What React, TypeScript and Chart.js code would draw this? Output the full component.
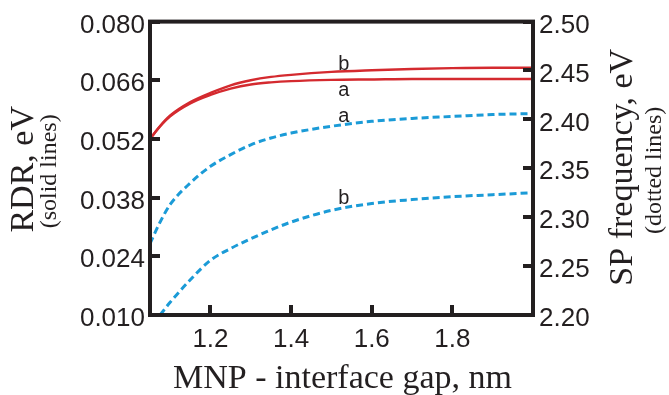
import React, { useEffect, useRef } from "react";
import { Chart, registerables } from "chart.js";

Chart.register(...registerables);

// ---- data ----
const gapValues = [1.05, 1.075, 1.1, 1.15, 1.2, 1.25, 1.3, 1.35, 1.4, 1.5, 1.6, 1.7, 1.8, 1.9, 2.0];
const rdrA = [0.052, 0.055, 0.0574, 0.0605, 0.0625, 0.064, 0.065, 0.0655, 0.0658, 0.0661, 0.0662, 0.0663, 0.0663, 0.0663, 0.0663];
const rdrB = [0.052, 0.0551, 0.0576, 0.0608, 0.063, 0.0648, 0.066, 0.0668, 0.0673, 0.068, 0.0684, 0.0687, 0.0689, 0.069, 0.069];
const spA = [2.273, 2.295, 2.313, 2.335, 2.352, 2.364, 2.374, 2.381, 2.386, 2.393, 2.398, 2.401, 2.403, 2.405, 2.406];
const spB = [null, 2.2, 2.213, 2.236, 2.256, 2.268, 2.278, 2.287, 2.295, 2.307, 2.314, 2.318, 2.321, 2.323, 2.325];

const xTicks = [1.2, 1.4, 1.6, 1.8];
const leftTicks = [0.01, 0.024, 0.038, 0.052, 0.066, 0.08];
const rightTicks = [2.2, 2.25, 2.3, 2.35, 2.4, 2.45, 2.5];

const curveLabels = ["b", "a", "a", "b"];
const curveLabelGap = [1.531, 1.531, 1.531, 1.531];
const curveLabelValue = [0.0698, 0.0636, 2.403, 2.319];
const curveLabelAxis = ["y", "y", "y1", "y1"];

const xTitle = "MNP - interface gap, nm";
const leftTitle = "RDR, eV";
const leftSubTitle = "(solid lines)";
const rightTitle = "SP frequency, eV";
const rightSubTitle = "(dotted lines)";

const INK = "#231f20";
const RED = "#d42a2f";
const BLUE = "#1b9bd7";

const toPoints = (vals: (number | null)[]) =>
  gapValues.map((g, i) => ({ x: g, y: vals[i] }));

const framePlugin = {
  id: "frame",
  afterDraw(chart: any) {
    const ctx = chart.ctx;
    const a = chart.chartArea;
    const sx = chart.scales["x"];
    const sy = chart.scales["y"];
    const sy1 = chart.scales["y1"];
    ctx.save();
    ctx.setLineDash([]);
    ctx.globalAlpha = 1;
    ctx.globalCompositeOperation = "source-over";
    ctx.fillStyle = INK;
    ctx.strokeStyle = INK;
    // inward tick marks
    const tl = 10;
    const tw = 4;
    for (let i = 0; i < xTicks.length; i++) {
      const px = sx.getPixelForValue(xTicks[i]);
      ctx.fillRect(Math.round(px - tw / 2), Math.round(a.bottom - tl), tw, tl);
    }
    for (let i = 0; i < leftTicks.length; i++) {
      const py = sy.getPixelForValue(leftTicks[i]);
      ctx.fillRect(Math.round(a.left), Math.round(py - tw / 2), tl, tw);
    }
    for (let i = 0; i < rightTicks.length; i++) {
      const py = sy1.getPixelForValue(rightTicks[i]);
      ctx.fillRect(Math.round(a.right - tl), Math.round(py - tw / 2), tl, tw);
    }
    // frame
    ctx.lineWidth = 4;
    ctx.lineJoin = "miter";
    ctx.strokeRect(a.left, a.top, a.right - a.left, a.bottom - a.top);
    // curve labels
    ctx.font = "20px 'Liberation Sans', Arial, sans-serif";
    ctx.textAlign = "center";
    ctx.textBaseline = "middle";
    curveLabels.forEach((t, i) => {
      const px = sx.getPixelForValue(curveLabelGap[i]);
      const py = chart.scales[curveLabelAxis[i]].getPixelForValue(curveLabelValue[i]);
      ctx.fillText(t, px, py);
    });

    // axis titles
    const cy = (a.top + a.bottom) / 2;
    ctx.textAlign = "center";
    ctx.textBaseline = "alphabetic";
    ctx.font = "34px 'Liberation Serif', 'Times New Roman', serif";
    ctx.fillText(xTitle, (a.left + a.right) / 2 + 1, 388);
    const vtext = (t: string, x: number, y: number, font: string) => {
      ctx.save();
      ctx.font = font;
      ctx.translate(x, y);
      ctx.rotate(-Math.PI / 2);
      ctx.fillText(t, 0, 0);
      ctx.restore();
    };
    const big = "34px 'Liberation Serif', 'Times New Roman', serif";
    const small = "24px 'Liberation Serif', 'Times New Roman', serif";
    vtext(leftTitle, 33, cy + 1, big);
    vtext(leftSubTitle, 56, cy + 3, small);
    vtext(rightTitle, 632, cy - 1, big);
    vtext(rightSubTitle, 661, cy + 2, small);
    ctx.restore();
  },
};

export default function App() {
  const ref = useRef<HTMLCanvasElement | null>(null);
  useEffect(() => {
    if (!ref.current) return;
    const tickFont = { family: "'Liberation Sans', Arial, sans-serif", size: 26 };
    const chart = new Chart(ref.current, {
      type: "line",
      data: {
        datasets: [
          { label: "RDR a", data: toPoints(rdrA), yAxisID: "y", borderColor: RED, borderWidth: 2.4, pointRadius: 0, cubicInterpolationMode: "monotone", fill: false },
          { label: "RDR b", data: toPoints(rdrB), yAxisID: "y", borderColor: RED, borderWidth: 2.4, pointRadius: 0, cubicInterpolationMode: "monotone", fill: false },
          { label: "SP a", data: toPoints(spA), yAxisID: "y1", borderColor: BLUE, borderWidth: 3, borderDash: [7, 4], pointRadius: 0, cubicInterpolationMode: "monotone", fill: false },
          { label: "SP b", data: toPoints(spB), yAxisID: "y1", borderColor: BLUE, borderWidth: 3, borderDash: [7, 4], pointRadius: 0, cubicInterpolationMode: "monotone", fill: false, spanGaps: true },
        ],
      } as any,
      options: {
        animation: false,
        responsive: true,
        maintainAspectRatio: false,
        layout: { padding: { top: 16, left: 0, right: 0, bottom: 0 } },
        plugins: { legend: { display: false }, tooltip: { enabled: false } },
        scales: {
          x: {
            type: "linear",
            min: 1.05,
            max: 2.0,
            grid: { display: false, drawTicks: false },
            border: { display: false },
            afterBuildTicks: (s: any) => { s.ticks = xTicks.map((v) => ({ value: v })); },
            afterFit: (s: any) => { s.height = 80; },
            ticks: { font: tickFont, color: INK, padding: 9, maxRotation: 0, autoSkip: false, callback: (v: any) => Number(v).toFixed(1) },
          },
          y: {
            type: "linear",
            position: "left",
            min: 0.01,
            max: 0.08,
            grid: { display: false, drawTicks: false },
            border: { display: false },
            afterBuildTicks: (s: any) => { s.ticks = leftTicks.map((v) => ({ value: v })); },
            afterFit: (s: any) => { s.width = 150; },
            ticks: { font: tickFont, color: INK, padding: 5, labelOffset: 4, autoSkip: false, callback: (v: any) => Number(v).toFixed(3) },
          },
          y1: {
            type: "linear",
            position: "right",
            min: 2.2,
            max: 2.5,
            grid: { display: false, drawTicks: false },
            border: { display: false },
            afterBuildTicks: (s: any) => { s.ticks = rightTicks.map((v) => ({ value: v })); },
            afterFit: (s: any) => { s.width = 136; },
            ticks: { font: tickFont, color: INK, padding: 6, labelOffset: 4, autoSkip: false, callback: (v: any) => Number(v).toFixed(2) },
          },
        },
      } as any,
      plugins: [framePlugin],
    });
    return () => chart.destroy();
  }, []);
  return (
    <div style={{ position: "fixed", left: 0, top: 0, width: 669, height: 395, background: "#fff" }}>
      <canvas ref={ref} />
    </div>
  );
}
